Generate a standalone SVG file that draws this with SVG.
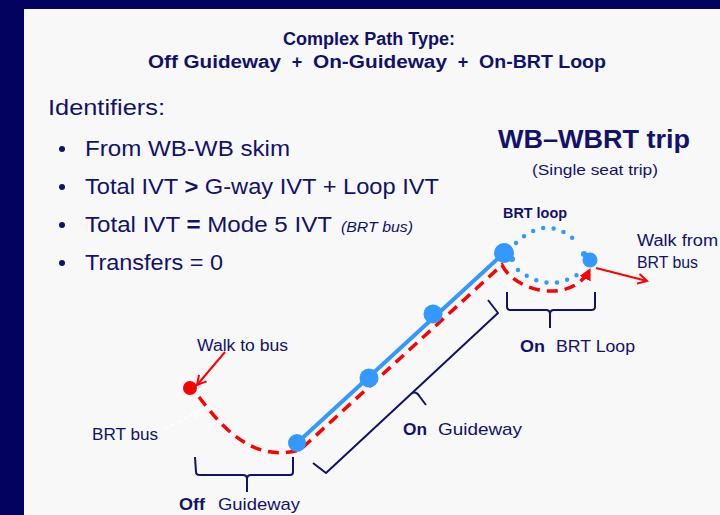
<svg xmlns="http://www.w3.org/2000/svg" width="720" height="515" viewBox="0 0 720 515">
<style>
text{font-family:"Liberation Sans",Arial,sans-serif;fill:#12126b}
.b{font-weight:bold}
.br{fill:none;stroke:#12126b;stroke-width:2;stroke-linejoin:round}
.stop{fill:#3399ff}
.red{stroke:#ff0000;fill:none}
</style>
<defs>
<marker id="openR" markerUnits="userSpaceOnUse" markerWidth="14" markerHeight="14" refX="10" refY="6" orient="auto" viewBox="0 0 14 12">
<path d="M1,1 L10,6 L1,11" fill="none" stroke="#ff0000" stroke-width="2"/>
</marker>
<marker id="fillR" markerUnits="userSpaceOnUse" markerWidth="12" markerHeight="12" refX="9" refY="5" orient="auto" viewBox="0 0 10 10">
<path d="M0,0 L10,5 L0,10 Z" fill="#ff0000"/>
</marker>
<marker id="whiteA" markerUnits="userSpaceOnUse" markerWidth="10" markerHeight="10" refX="7" refY="4" orient="auto" viewBox="0 0 8 8">
<path d="M0,0 L8,4 L0,8 Z" fill="#ffffff"/>
</marker>
</defs>
<rect x="0" y="0" width="720" height="515" fill="#03035f"/>
<rect x="24" y="9" width="696" height="506" fill="#f8f8f8"/>

<g id="heading">
<text class="b" x="369" y="45" font-size="18" text-anchor="middle" textLength="172" lengthAdjust="spacingAndGlyphs">Complex Path Type:</text>
<text class="b" x="148" y="68" font-size="18" textLength="133" lengthAdjust="spacingAndGlyphs">Off Guideway</text>
<text class="b" x="297" y="68" font-size="18" text-anchor="middle">+</text>
<text class="b" x="313" y="68" font-size="18" textLength="134" lengthAdjust="spacingAndGlyphs">On-Guideway</text>
<text class="b" x="463" y="68" font-size="18" text-anchor="middle">+</text>
<text class="b" x="479" y="68" font-size="18" textLength="127" lengthAdjust="spacingAndGlyphs">On-BRT Loop</text>
</g>

<g id="identifiers">
<text x="48" y="115" font-size="22" textLength="117" lengthAdjust="spacingAndGlyphs">Identifiers:</text>
<circle cx="62" cy="149" r="3" fill="#12126b"/>
<circle cx="62" cy="187" r="3" fill="#12126b"/>
<circle cx="62" cy="225" r="3" fill="#12126b"/>
<circle cx="62" cy="263" r="3" fill="#12126b"/>
<text x="85" y="156" font-size="22" textLength="205" lengthAdjust="spacingAndGlyphs">From WB-WB skim</text>
<text x="85" y="194" font-size="22" textLength="354" lengthAdjust="spacingAndGlyphs">Total IVT <tspan class="b">&gt;</tspan> G-way IVT + Loop IVT</text>
<text x="85" y="232" font-size="22" textLength="247" lengthAdjust="spacingAndGlyphs">Total IVT <tspan class="b">=</tspan> Mode 5 IVT</text>
<text x="341" y="232" font-size="14" font-style="italic" textLength="72" lengthAdjust="spacingAndGlyphs">(BRT bus)</text>
<text x="85" y="270" font-size="22" textLength="138" lengthAdjust="spacingAndGlyphs">Transfers = 0</text>
</g>

<g id="trip-title">
<text class="b" x="594" y="148" font-size="25" text-anchor="middle" textLength="192" lengthAdjust="spacingAndGlyphs">WB–WBRT trip</text>
<text x="595" y="175" font-size="15" text-anchor="middle" textLength="126" lengthAdjust="spacingAndGlyphs">(Single seat trip)</text>
</g>

<g id="connectors">
<line x1="297" y1="443" x2="504" y2="253" stroke="#3399ff" stroke-width="4"/>
<path d="M516,243 Q547,213 577,242" fill="none" stroke="#3399ff" stroke-width="4.5" stroke-linecap="round" stroke-dasharray="0 10.5"/>
<path d="M518,270 Q549,294 580,273" fill="none" stroke="#3399ff" stroke-width="4.5" stroke-linecap="round" stroke-dasharray="0 10.5"/>
<path class="red" d="M199,397 C222,427 252,463 300,450 L502,265 C515,292 572,305 590,269" stroke-width="3.5" stroke-dasharray="11 7" marker-end="url(#fillR)"/>
<line class="red" x1="225" y1="352" x2="197" y2="385" stroke-width="2" marker-end="url(#openR)"/>
<line class="red" x1="596" y1="268" x2="647" y2="281" stroke-width="2" marker-end="url(#openR)"/>
<line x1="165" y1="429" x2="201" y2="410" stroke="#ffffff" stroke-width="1.5" stroke-dasharray="4 3" marker-end="url(#whiteA)"/>
</g>

<g id="stop-walk-start"><circle cx="190" cy="388" r="7" fill="#ff0000"/></g>
<g id="stop-1"><circle class="stop" cx="297" cy="443" r="9"/></g>
<g id="stop-2"><circle class="stop" cx="369" cy="378" r="9.5"/></g>
<g id="stop-3"><circle class="stop" cx="433" cy="314" r="9.5"/></g>
<g id="stop-4"><circle class="stop" cx="504" cy="253" r="10"/><circle class="stop" cx="512" cy="259" r="3"/></g>
<g id="stop-5"><circle class="stop" cx="590" cy="260" r="7.5"/><circle class="stop" cx="584" cy="254" r="3"/></g>

<g id="brackets">
<path class="br" d="M195,457 L196,472 Q196,475 200,475 L243,475 Q247,475 247,479 L247,492 M247,479 Q247,475 251,475 L290,475 Q293,475 293,472 L293,457"/>
<path class="br" d="M313,463 L326,473 L411,394 Q416,390 420,397 L426,405 M411,394 L498,313 L488,300"/>
<path class="br" d="M507,292 L507,307 Q507,310 511,310 L546,310 Q550,310 550,314 L550,328 M550,314 Q550,310 554,310 L591,310 Q595,310 595,307 L595,292"/>
</g>

<g id="labels">
<text class="b" x="503" y="218" font-size="14" textLength="64" lengthAdjust="spacingAndGlyphs">BRT loop</text>
<text x="637" y="246" font-size="16" textLength="81" lengthAdjust="spacingAndGlyphs">Walk from</text>
<text x="637" y="268" font-size="16" textLength="61" lengthAdjust="spacingAndGlyphs">BRT bus</text>
<text x="197" y="351" font-size="16" textLength="91" lengthAdjust="spacingAndGlyphs">Walk to bus</text>
<text x="92" y="440" font-size="17" textLength="66" lengthAdjust="spacingAndGlyphs">BRT bus</text>
<text class="b" x="520" y="352" font-size="17" textLength="25" lengthAdjust="spacingAndGlyphs">On</text>
<text x="556" y="352" font-size="17" textLength="79" lengthAdjust="spacingAndGlyphs">BRT Loop</text>
<text class="b" x="403" y="435" font-size="17" textLength="24" lengthAdjust="spacingAndGlyphs">On</text>
<text x="438" y="435" font-size="17" textLength="84" lengthAdjust="spacingAndGlyphs">Guideway</text>
<text class="b" x="179" y="510" font-size="17" textLength="26" lengthAdjust="spacingAndGlyphs">Off</text>
<text x="218" y="510" font-size="17" textLength="82" lengthAdjust="spacingAndGlyphs">Guideway</text>
</g>
</svg>
